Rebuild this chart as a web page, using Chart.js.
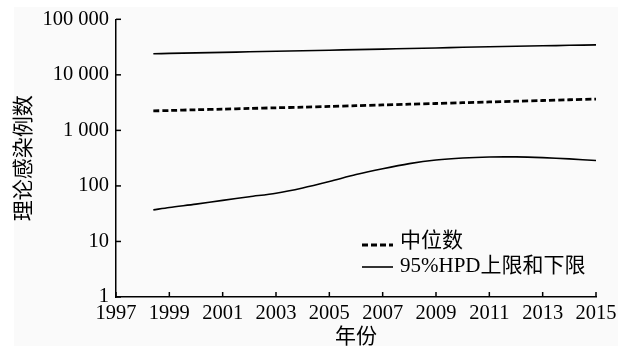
<!DOCTYPE html>
<html><head><meta charset="utf-8">
<script src="https://cdn.jsdelivr.net/npm/chart.js@4"></script>
<style>html,body{margin:0;padding:0;background:#fff}canvas{display:block}</style>
</head><body>
<canvas id="c" width="635" height="352" style="width:635px;height:352px"></canvas>
<script>
const years       = [1998.4, 1999, 2000, 2001, 2002, 2003, 2004, 2005, 2006, 2007, 2008, 2009, 2010, 2011, 2012, 2013, 2014, 2015];
const medianCases = [2240, 2280, 2350, 2410, 2480, 2550, 2620, 2700, 2780, 2870, 2960, 3050, 3150, 3250, 3350, 3450, 3560, 3660];
const hpdUpper    = [24000, 24300, 24900, 25400, 26000, 26600, 27200, 27800, 28500, 29100, 29800, 30500, 31300, 32000, 32700, 33300, 34000, 34700];
const hpdLower    = [37, 41, 47, 55, 64, 74, 92, 120, 160, 204, 252, 293, 319, 332, 333, 323, 307, 286];
const xTickYears  = [1997, 1999, 2001, 2003, 2005, 2007, 2009, 2011, 2013, 2015];
const yTickValues = [1, 10, 100, 1000, 10000, 100000];
const seriesLabels = ['中位数', '95%HPD上限和下限'];
const xTitle = '年份';
const yTitle = '理论感染例数';

const pts = arr => years.map((x, i) => ({x: x, y: arr[i]}));
const fmt = v => String(v).replace(/\B(?=(\d{3})+(?!\d))/g, ' ');
const SERIF = '"Liberation Serif","Noto Sans CJK SC",serif';

const deco = {
  id: 'deco',
  beforeDraw(chart) {
    const c = chart.ctx;
    c.save();
    c.fillStyle = '#fff'; c.fillRect(0, 0, chart.width, chart.height);
    c.fillStyle = '#fafafa'; c.fillRect(14, 7, 604, 339);
    c.restore();
  },
  afterDraw(chart) {
    const c = chart.ctx, xs = chart.scales.x, ys = chart.scales.y, a = chart.chartArea;
    c.save();
    c.strokeStyle = '#000'; c.lineWidth = 1.5;
    xs.ticks.forEach(t => { const px = xs.getPixelForValue(t.value); c.beginPath(); c.moveTo(px, a.bottom); c.lineTo(px, a.bottom - 5); c.stroke(); });
    ys.ticks.forEach(t => { const py = ys.getPixelForValue(t.value); c.beginPath(); c.moveTo(a.left, py); c.lineTo(a.left + 5, py); c.stroke(); });
    // legend
    const rows = [
      {ds: chart.data.datasets[0], label: seriesLabels[0], ly: a.bottom - 52, ty: a.bottom - 55.5},
      {ds: chart.data.datasets[1], label: seriesLabels[1], ly: a.bottom - 30, ty: a.bottom - 30.5}
    ];
    const x0 = a.left + 246, x1 = a.left + 277, tx = a.left + 284;
    rows.forEach(r => {
      c.strokeStyle = r.ds.borderColor; c.lineWidth = r.ds.borderWidth;
      c.setLineDash(r.ds.borderDash || []);
      c.beginPath(); c.moveTo(x0, r.ly); c.lineTo(x1, r.ly); c.stroke();
      c.setLineDash([]);
      c.fillStyle = '#000'; c.font = '21px ' + SERIF; c.textBaseline = 'middle'; c.textAlign = 'left';
      c.fillText(r.label, tx, r.ty);
    });
    c.restore();
  }
};

new Chart(document.getElementById('c'), {
  type: 'line',
  data: {
    datasets: [
      {label: seriesLabels[0], data: pts(medianCases), borderColor: '#000', borderWidth: 2.8, borderDash: [6, 3], pointRadius: 0, tension: 0.3, fill: false},
      {label: seriesLabels[1], data: pts(hpdUpper), borderColor: '#000', borderWidth: 1.6, pointRadius: 0, tension: 0.3, fill: false},
      {label: seriesLabels[1], data: pts(hpdLower), borderColor: '#000', borderWidth: 1.6, pointRadius: 0, tension: 0.3, fill: false}
    ]
  },
  options: {
    responsive: false, animation: false, devicePixelRatio: 1,
    layout: {padding: {left: 0, right: 39, top: 16, bottom: 0}},
    plugins: {legend: {display: false}, tooltip: {enabled: false}},
    scales: {
      x: {
        type: 'linear', min: 1997, max: 2015,
        afterBuildTicks(s) { s.ticks = xTickYears.map(v => ({value: v})); },
        grid: {display: false, drawTicks: false},
        border: {display: true, color: '#000', width: 1.5},
        ticks: {color: '#000', font: {family: SERIF, size: 20.5}, padding: 4, maxRotation: 0, autoSkip: false, callback: v => String(v)},
        title: {display: true, text: xTitle, color: '#000', font: {family: SERIF, size: 21}, padding: {top: 0, bottom: 2}},
        afterFit(s) { s.height = 55; }
      },
      y: {
        type: 'logarithmic', min: 1, max: 100000,
        afterBuildTicks(s) { s.ticks = yTickValues.map(v => ({value: v})); },
        grid: {display: false, drawTicks: false},
        border: {display: true, color: '#000', width: 1.5},
        ticks: {color: '#000', font: {family: SERIF, size: 20.5}, padding: 7, autoSkip: false, callback: v => fmt(v)},
        title: {display: true, text: yTitle, color: '#000', font: {family: SERIF, size: 21}, padding: {top: 12, bottom: 0}},
        afterFit(s) { s.width = 116; }
      }
    }
  },
  plugins: [deco]
});
</script>
</body></html>
